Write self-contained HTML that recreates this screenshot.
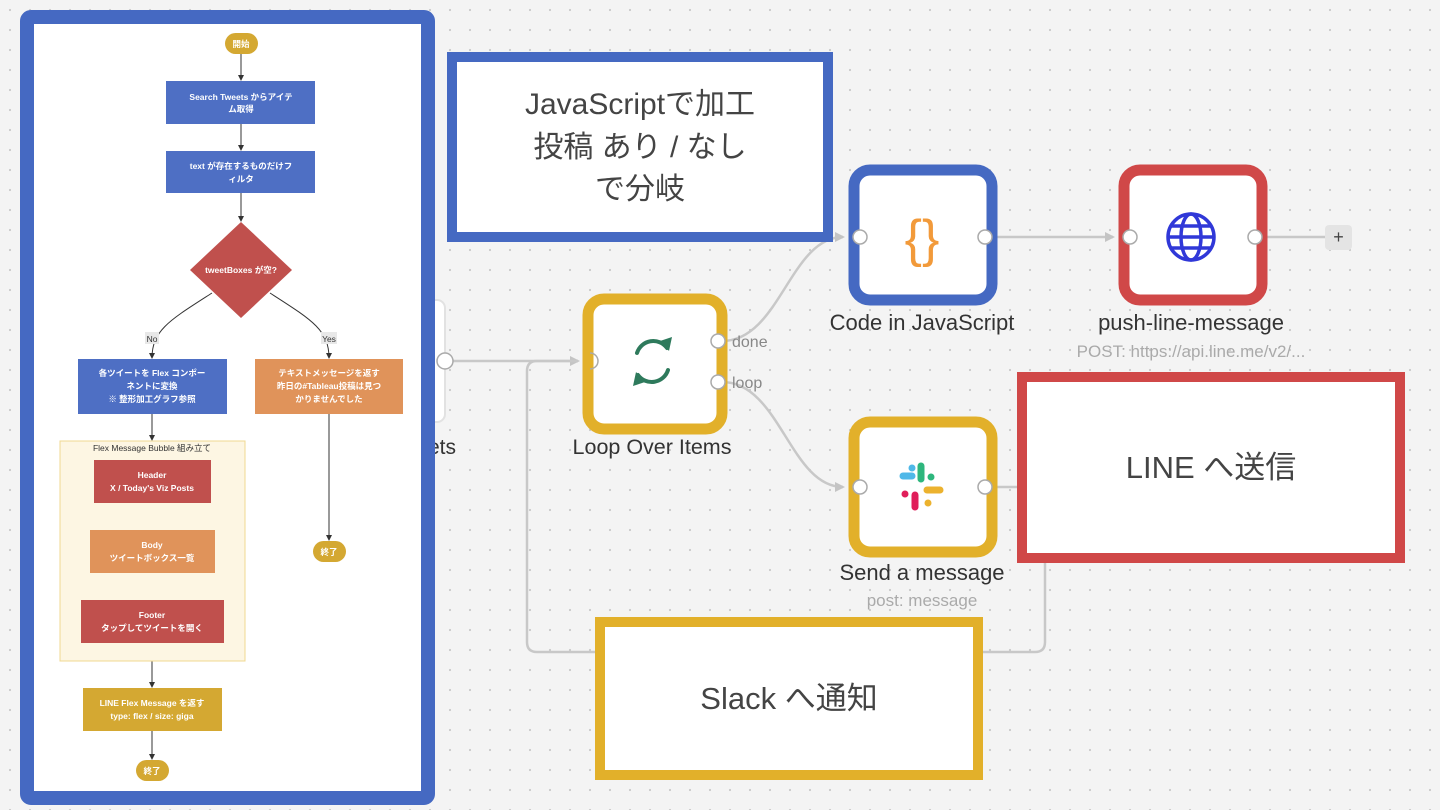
<!DOCTYPE html>
<html><head><meta charset="utf-8"><style>
html,body{margin:0;padding:0;width:1440px;height:810px;overflow:hidden;background:#f4f4f4}
svg{display:block}
text{font-family:"Liberation Sans","Noto Sans CJK JP",sans-serif}
</style></head><body>
<svg width="1440" height="810" viewBox="0 0 1440 810" xmlns="http://www.w3.org/2000/svg">
<defs>
<pattern id="dots" width="20" height="20" patternUnits="userSpaceOnUse"><circle cx="10" cy="10" r="1.1" fill="#c9c9c9"/></pattern>
<marker id="ga" markerWidth="10" markerHeight="10" refX="8" refY="5" orient="auto" markerUnits="userSpaceOnUse"><path d="M0,0 L10,5 L0,10 z" fill="#c4c4c4"/></marker>
<marker id="ka" markerWidth="6" markerHeight="6" refX="5" refY="3" orient="auto" markerUnits="userSpaceOnUse"><path d="M0,0 L6,3 L0,6 z" fill="#333"/></marker>
</defs>
<rect width="1440" height="810" fill="#f4f4f4"/>
<rect width="1440" height="810" fill="url(#dots)"/>

<g fill="none" stroke="#c8c8c8" stroke-width="2.5">
<path d="M452,361 L578,361" marker-end="url(#ga)"/>
<path d="M985,487 L1035,487 Q1045,487 1045,497 L1045,642 Q1045,652 1035,652 L537,652 Q527,652 527,642 L527,371 Q527,361 537,361 L578,361"/>
<path d="M722,341 C780,341 790,237 843,237" marker-end="url(#ga)"/>
<path d="M722,382 C780,382 790,487 843,487" marker-end="url(#ga)"/>
<path d="M990,237 L1113,237" marker-end="url(#ga)"/>
<path d="M1255,237 L1325,237"/>
</g>
<rect x="1325" y="225" width="27" height="25" rx="4" fill="#e4e4e4"/>
<text x="1338.5" y="243" font-size="18" text-anchor="middle" fill="#444">+</text>

<rect x="400" y="300" width="45" height="122" rx="8" fill="#fff" stroke="#e2e2e2" stroke-width="2"/>
<circle cx="445" cy="361" r="8" fill="#fff" stroke="#aaa" stroke-width="1.5"/>
<text x="456" y="454" font-size="21" text-anchor="end" fill="#333">ets</text>

<rect x="588" y="299" width="134" height="130" rx="16" fill="#fff" stroke="#e2b02a" stroke-width="11"/>
<path d="M590,353 a8,8 0 0 1 0,16" fill="none" stroke="#aaa" stroke-width="1.5"/>
<circle cx="718" cy="341" r="7" fill="#fff" stroke="#aaa" stroke-width="1.5"/>
<circle cx="718" cy="382" r="7" fill="#fff" stroke="#aaa" stroke-width="1.5"/>
<text x="732" y="347" font-size="16" fill="#888">done</text>
<text x="732" y="388" font-size="16" fill="#888">loop</text>
<g fill="none" stroke="#2e7a5c" stroke-width="4" stroke-linecap="round">
<path d="M637,353 a17,17 0 0 1 30,-5"/><path d="M668,370 a17,17 0 0 1 -30,5"/>
</g>
<path d="M660,341 L672,337 L669,351 z" fill="#2e7a5c"/><path d="M645,382 L633,386 L636,372 z" fill="#2e7a5c"/>
<text x="652" y="454" font-size="21.5" text-anchor="middle" fill="#333">Loop Over Items</text>

<rect x="854" y="170" width="138" height="130" rx="16" fill="#fff" stroke="#4569c2" stroke-width="11"/>
<text x="922" y="256" font-size="52" text-anchor="middle" fill="#f29a3a">{}</text>
<circle cx="860" cy="237" r="7" fill="#fff" stroke="#aaa" stroke-width="1.5"/>
<circle cx="985" cy="237" r="7" fill="#fff" stroke="#aaa" stroke-width="1.5"/>
<text x="922" y="330" font-size="22" text-anchor="middle" fill="#333">Code in JavaScript</text>

<rect x="1124" y="170" width="138" height="130" rx="16" fill="#fff" stroke="#d04848" stroke-width="11"/>
<g fill="none" stroke="#3038d8" stroke-width="3.5">
<circle cx="1191" cy="237" r="23"/><ellipse cx="1191" cy="237" rx="10" ry="23"/>
<line x1="1168" y1="237" x2="1214" y2="237"/><line x1="1171" y1="226" x2="1211" y2="226"/><line x1="1171" y1="248" x2="1211" y2="248"/>
</g>
<circle cx="1130" cy="237" r="7" fill="#fff" stroke="#aaa" stroke-width="1.5"/>
<circle cx="1255" cy="237" r="7" fill="#fff" stroke="#aaa" stroke-width="1.5"/>
<text x="1191" y="330" font-size="22" text-anchor="middle" fill="#333">push-line-message</text>
<text x="1191" y="357" font-size="17" text-anchor="middle" fill="#aaa">POST: https://api.line.me/v2/...</text>

<rect x="854" y="422" width="138" height="130" rx="16" fill="#fff" stroke="#e2b02a" stroke-width="11"/>
<g stroke-linecap="round" stroke-width="7">
<line x1="903" y1="476" x2="912" y2="476" stroke="#4fb8e8"/>
<line x1="921" y1="466" x2="921" y2="479" stroke="#2eb67d"/>
<line x1="931" y1="477" x2="931" y2="477" stroke="#2eb67d"/>
<line x1="927" y1="490" x2="940" y2="490" stroke="#ecb22e"/>
<line x1="915" y1="495" x2="915" y2="507" stroke="#e01e5a"/>
<line x1="905" y1="494" x2="905" y2="494" stroke="#e01e5a"/>
<line x1="928" y1="503" x2="928" y2="503" stroke="#ecb22e"/>
<line x1="912" y1="468" x2="912" y2="468" stroke="#4fb8e8"/>
</g>
<circle cx="860" cy="487" r="7" fill="#fff" stroke="#aaa" stroke-width="1.5"/>
<circle cx="985" cy="487" r="7" fill="#fff" stroke="#aaa" stroke-width="1.5"/>
<text x="922" y="580" font-size="22" text-anchor="middle" fill="#333">Send a message</text>
<text x="922" y="606" font-size="17" text-anchor="middle" fill="#aaa">post: message</text>

<rect x="452" y="57" width="376" height="180" fill="#fff" stroke="#4569c2" stroke-width="10"/>
<g font-size="30" text-anchor="middle" fill="#444">
<text x="640" y="114">JavaScriptで加工</text><text x="640" y="157">投稿 あり / なし</text><text x="640" y="199">で分岐</text>
</g>
<rect x="1022" y="377" width="378" height="181" fill="#fff" stroke="#d04848" stroke-width="10"/>
<text x="1211" y="478" font-size="31" text-anchor="middle" fill="#444">LINE へ送信</text>
<rect x="600" y="622" width="378" height="153" fill="#fff" stroke="#e2b02a" stroke-width="10"/>
<text x="789" y="709" font-size="31" text-anchor="middle" fill="#444">Slack へ通知</text>

<rect x="27" y="17" width="401" height="781" rx="4" fill="#fff" stroke="#4569c2" stroke-width="14"/>
<g stroke="#333" stroke-width="1" fill="none">
<line x1="241" y1="53" x2="241" y2="80" marker-end="url(#ka)"/>
<line x1="241" y1="124" x2="241" y2="150" marker-end="url(#ka)"/>
<line x1="241" y1="193" x2="241" y2="221" marker-end="url(#ka)"/>
<path d="M212,293 C170,320 152,330 152,358" marker-end="url(#ka)"/>
<path d="M270,293 C312,320 329,330 329,358" marker-end="url(#ka)"/>
<line x1="152" y1="414" x2="152" y2="440" marker-end="url(#ka)"/>
<line x1="329" y1="414" x2="329" y2="540" marker-end="url(#ka)"/>
<line x1="152" y1="661" x2="152" y2="687" marker-end="url(#ka)"/>
<line x1="152" y1="731" x2="152" y2="759" marker-end="url(#ka)"/>
</g>
<g font-size="8.5" text-anchor="middle" fill="#fff" font-weight="bold">
<rect x="225" y="33" width="33" height="21" rx="10.5" fill="#d4a832"/><text x="241" y="47">開始</text>
<rect x="166" y="81" width="149" height="43" fill="#4e6fc4"/><text x="241" y="100">Search Tweets からアイテ</text><text x="241" y="112">ム取得</text>
<rect x="166" y="151" width="149" height="42" fill="#4e6fc4"/><text x="241" y="169">text が存在するものだけフ</text><text x="241" y="182">ィルタ</text>
<polygon points="241,222 292,270 241,318 190,270" fill="#c0504d"/><text x="241" y="273">tweetBoxes が空?</text>
<rect x="78" y="359" width="149" height="55" fill="#4e6fc4"/><text x="152" y="376">各ツイートを Flex コンポー</text><text x="152" y="389">ネントに変換</text><text x="152" y="402">※ 整形加工グラフ参照</text>
<rect x="255" y="359" width="148" height="55" fill="#e0935a"/><text x="329" y="376">テキストメッセージを返す</text><text x="329" y="389">昨日の#Tableau投稿は見つ</text><text x="329" y="402">かりませんでした</text>
<rect x="60" y="441" width="185" height="220" fill="#fdf6e3" stroke="#f0d890" stroke-width="1"/>
<text x="152" y="451" fill="#333" font-weight="normal">Flex Message Bubble 組み立て</text>
<rect x="94" y="460" width="117" height="43" fill="#c0504d"/><text x="152" y="478">Header</text><text x="152" y="491">X / Today's Viz Posts</text>
<rect x="90" y="530" width="125" height="43" fill="#e0935a"/><text x="152" y="548">Body</text><text x="152" y="561">ツイートボックス一覧</text>
<rect x="81" y="600" width="143" height="43" fill="#c0504d"/><text x="152" y="618">Footer</text><text x="152" y="631">タップしてツイートを開く</text>
<rect x="83" y="688" width="139" height="43" fill="#d4a832"/><text x="152" y="706">LINE Flex Message を返す</text><text x="152" y="719">type: flex / size: giga</text>
<rect x="136" y="760" width="33" height="21" rx="10.5" fill="#d4a832"/><text x="152" y="774">終了</text>
<rect x="313" y="541" width="33" height="21" rx="10.5" fill="#d4a832"/><text x="329" y="555">終了</text>
</g>
<rect x="145" y="332" width="14" height="12" fill="#e8e8e8"/><text x="152" y="342" font-size="8.5" text-anchor="middle" fill="#333">No</text>
<rect x="321" y="332" width="16" height="12" fill="#e8e8e8"/><text x="329" y="342" font-size="8.5" text-anchor="middle" fill="#333">Yes</text>
</svg>
</body></html>
